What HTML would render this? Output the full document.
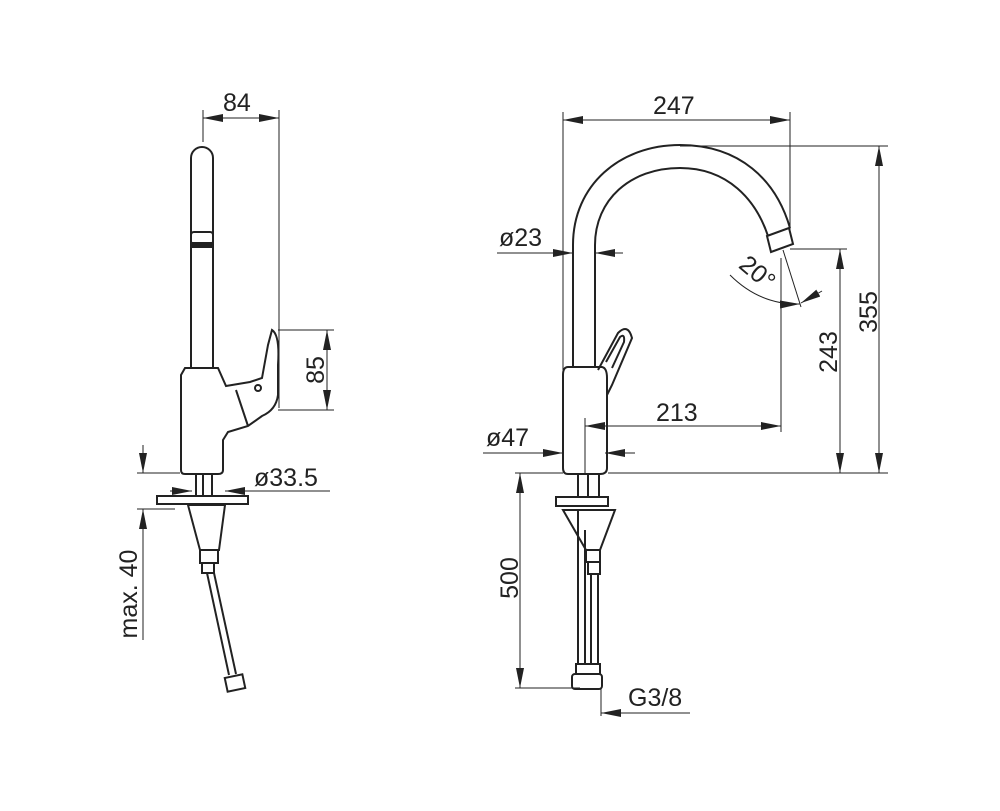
<!DOCTYPE html>
<html><head><meta charset="utf-8"><style>html,body{margin:0;padding:0;background:#fff}svg{display:block}text{font-family:"Liberation Sans",sans-serif;font-size:25px;fill:#222}</style></head><body>
<svg width="1000" height="811" viewBox="0 0 1000 811" xmlns="http://www.w3.org/2000/svg">
<defs>
<marker id="a" viewBox="0 0 20 8" refX="20" refY="4" markerWidth="20" markerHeight="8" markerUnits="userSpaceOnUse" orient="auto-start-reverse"><path d="M0,0L20,4L0,8z" fill="#222"/></marker>
</defs>
<g fill="none" stroke="#222" stroke-width="1">
<line x1="203" y1="110" x2="203" y2="142"/><line x1="279" y1="110" x2="279" y2="408"/>
<line x1="203" y1="118" x2="279" y2="118" marker-start="url(#a)" marker-end="url(#a)"/>
<line x1="278" y1="330" x2="334" y2="330"/><line x1="278" y1="410" x2="334" y2="410"/>
<line x1="327" y1="330" x2="327" y2="410" marker-start="url(#a)" marker-end="url(#a)"/>
<line x1="170" y1="491" x2="192" y2="491" marker-end="url(#a)"/>
<line x1="330" y1="491" x2="225" y2="491" marker-end="url(#a)"/>
<line x1="137" y1="473" x2="180" y2="473"/><line x1="137" y1="509" x2="175" y2="509"/>
<line x1="143" y1="445" x2="143" y2="473" marker-end="url(#a)"/>
<line x1="143" y1="640" x2="143" y2="509" marker-end="url(#a)"/>
<line x1="563" y1="112" x2="563" y2="370"/><line x1="790" y1="112" x2="790" y2="230"/>
<line x1="563" y1="120" x2="790" y2="120" marker-start="url(#a)" marker-end="url(#a)"/>
<line x1="680" y1="146" x2="888" y2="146"/><line x1="608" y1="473" x2="888" y2="473"/>
<line x1="879" y1="146" x2="879" y2="473" marker-start="url(#a)" marker-end="url(#a)"/>
<line x1="790" y1="249" x2="847" y2="249"/>
<line x1="840" y1="249" x2="840" y2="473" marker-start="url(#a)" marker-end="url(#a)"/>
<line x1="781" y1="258" x2="781" y2="432"/>
<line x1="585" y1="426" x2="781" y2="426" marker-start="url(#a)" marker-end="url(#a)"/>
<line x1="585" y1="418" x2="585" y2="473"/>
<line x1="497" y1="253" x2="573" y2="253" marker-end="url(#a)"/>
<line x1="623" y1="253" x2="595" y2="253" marker-end="url(#a)"/>
<line x1="483" y1="453" x2="563" y2="453" marker-end="url(#a)"/>
<line x1="635" y1="453" x2="605" y2="453" marker-end="url(#a)"/>
<line x1="783" y1="250" x2="801" y2="307"/>
<path d="M730,275 Q760,305 800,304" marker-end="url(#a)"/>
<line x1="822" y1="291" x2="801" y2="303" marker-end="url(#a)"/>
<line x1="515" y1="473" x2="563" y2="473"/><line x1="515" y1="688" x2="580" y2="688"/>
<line x1="520" y1="473" x2="520" y2="688" marker-start="url(#a)" marker-end="url(#a)"/>
<line x1="601" y1="688" x2="601" y2="716"/>
<line x1="690" y1="713" x2="601" y2="713" marker-end="url(#a)"/>
</g>
<g fill="none" stroke="#222" stroke-width="2">
<path d="M191,368 L191,158 A11,11 0 0 1 213,158 L213,368"/>
<rect x="191" y="232" width="22" height="12" rx="3"/>
<rect x="192" y="243" width="20" height="4" fill="#222"/>
<path d="M185,368 L218,368 L226,386 L250,382 L262,378 L268,345 L272,330 Q280,335 278,365 L278,395 Q276,410 262,416 L248,426 L228,432 L223,440 L223,470 Q223,474 218,474 L185,474 Q181,474 181,470 L181,375 Z"/>
<path d="M236,390 L248,426"/>
<circle cx="258" cy="388" r="3"/>
<rect x="157" y="496" width="91" height="8"/>
<path d="M196,474 L196,496 M203,474 L203,496 M212,474 L212,496"/>
<path d="M188,505 L225,505 L219,550 L200,550 L196,535 Z"/>
<rect x="200" y="550" width="18" height="13"/>
<rect x="202" y="563" width="12" height="10"/>
<path d="M207,573 L229,675 M214,573 L236,674"/>
<rect x="226" y="676" width="18" height="14" transform="rotate(-12 235 683)"/>
<path d="M573,368 L573,245 C573,185 620,145 680,145 C740,145 776,180 790,228"/>
<path d="M595,368 L595,245 C595,200 630,168 680,168 C728,168 756,200 768,236"/>
<path d="M767,236 L789,228 L793,244 L771,252 Z"/>
<path d="M568,367 L602,367 Q607,368 607,378 L607,468 Q607,474 600,474 L568,474 Q563,474 563,468 L563,375 Q563,367 568,367 Z"/>
<path d="M598,370 L618,333 Q628,323 632,338 L612,385 L607,395"/>
<path d="M606,362 L620,337 Q625,333 624,342 L612,368"/>
<path d="M578,474 L578,497 M588,474 L588,497 M599,474 L599,497"/>
<rect x="556" y="497" width="52" height="9"/>
<path d="M563,510 L615,510 L600,550 L586,550 Z"/>
<rect x="586" y="550" width="14" height="12"/>
<rect x="588" y="562" width="12" height="12"/>
<path d="M578,510 L578,665 M585,530 L585,665 M591,574 L591,665 M598,574 L598,665"/>
<rect x="576" y="664" width="24" height="10"/>
<rect x="572" y="674" width="30" height="15" rx="3"/>
</g>
<text x="223" y="111">84</text>
<text transform="translate(324,370) rotate(-90)" text-anchor="middle">85</text>
<text x="254" y="486">ø33.5</text>
<text transform="translate(137,594) rotate(-90)" text-anchor="middle">max. 40</text>
<text x="653" y="114">247</text>
<text transform="translate(877,312) rotate(-90)" text-anchor="middle">355</text>
<text transform="translate(837,352) rotate(-90)" text-anchor="middle">243</text>
<text x="656" y="421">213</text>
<text x="499" y="246">ø23</text>
<text x="486" y="446">ø47</text>
<text transform="translate(752,279) rotate(40)" text-anchor="middle">20°</text>
<text transform="translate(518,578) rotate(-90)" text-anchor="middle">500</text>
<text x="628" y="706">G3/8</text>
</svg>
</body></html>
